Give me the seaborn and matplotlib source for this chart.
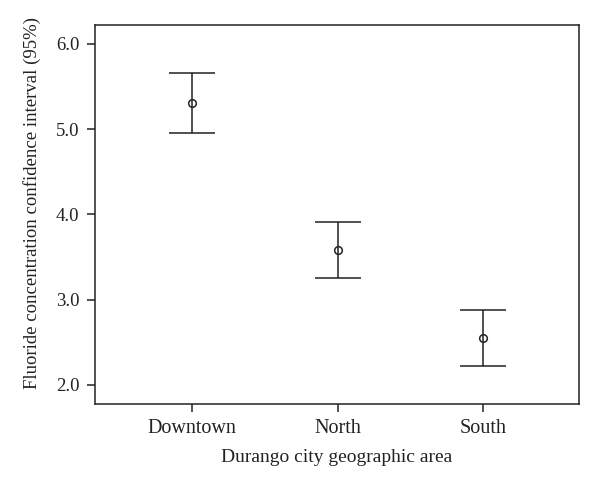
import matplotlib
matplotlib.use("Agg")
import matplotlib.pyplot as plt
import seaborn as sns
import pandas as pd

areas = ["Downtown", "North", "South"]
means = [5.31, 3.58, 2.55]
lower = [4.95, 3.25, 2.22]
upper = [5.66, 3.91, 2.88]
yticks = [2.0, 3.0, 4.0, 5.0, 6.0]

sns.set_theme(style="ticks")
plt.rcParams["font.family"] = ["Liberation Serif", "DejaVu Serif"]

df = pd.DataFrame({"area": areas, "mean": means, "lower": lower, "upper": upper})

fig = plt.figure(figsize=(6, 4.9), dpi=100)
ax = fig.add_axes([0.158, 0.176, 0.807, 0.773])

ink = "#222222"
sns.pointplot(data=df, x="area", y="mean", order=areas, errorbar=None,
              linestyle="none", markers="o", color=ink, ax=ax,
              markersize=5.5, markerfacecolor="none", markeredgewidth=1.1)
ax.errorbar(x=range(len(areas)), y=df["mean"],
            yerr=[df["mean"] - df["lower"], df["upper"] - df["mean"]],
            fmt="none", ecolor=ink, elinewidth=1.1, capsize=16.5, capthick=1.1, zorder=1)

ax.set_xlim(-0.67, 2.66)
ax.set_ylim(1.78, 6.22)
ax.set_yticks(yticks)
ax.set_yticklabels([f"{v:.1f}" for v in yticks])
ax.set_xlabel("Durango city geographic area", fontsize=14, color=ink, labelpad=8)
ax.set_ylabel("Fluoride concentration confidence interval (95%)", fontsize=13.5, color=ink)
ax.yaxis.set_label_coords(-0.112, 0.53)
ax.tick_params(axis="both", colors=ink, length=6, width=1.1, direction="out", pad=5)
ax.tick_params(axis="x", labelsize=14.5)
ax.tick_params(axis="y", labelsize=13.5)
for s in ax.spines.values():
    s.set_color(ink)
    s.set_linewidth(1.1)
    s.set_visible(True)

fig.savefig("out.png", dpi=100)
